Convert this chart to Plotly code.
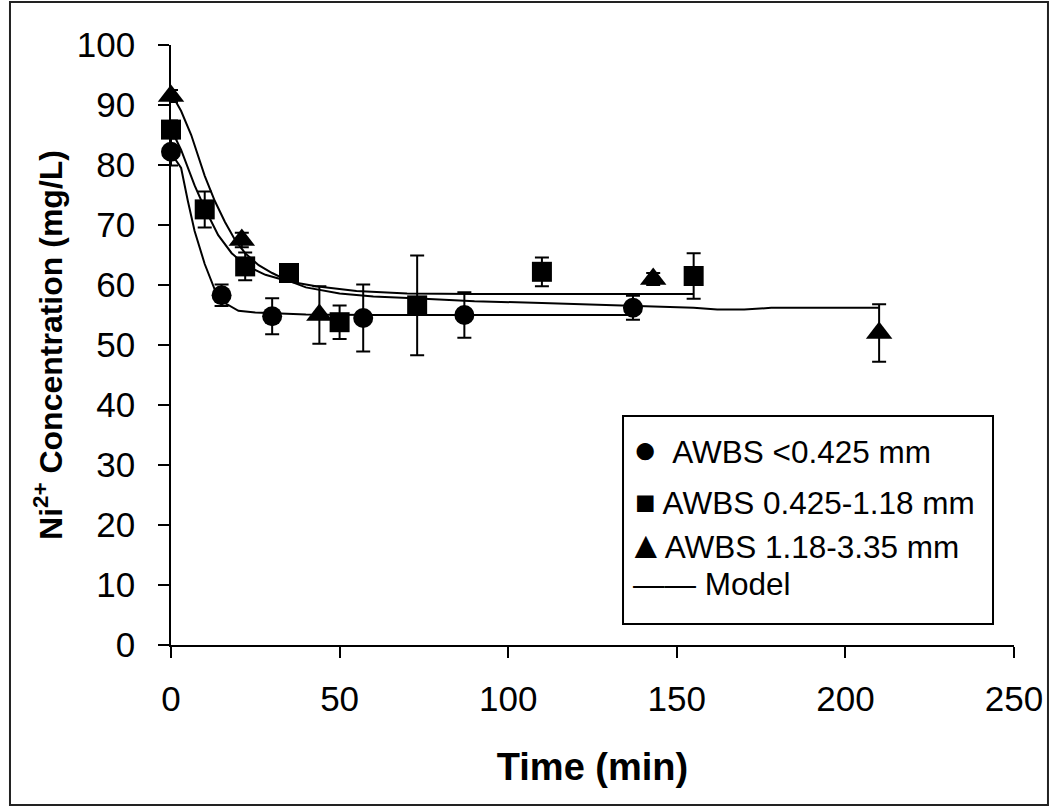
import plotly.graph_objects as go

# ---- data ----
t_small = [0, 15, 30, 57, 87, 137]
c_small = [82.2, 58.3, 54.8, 54.5, 55.0, 56.2]
e_small = [2.3, 1.8, 3.0, 5.6, 3.8, 2.0]

t_mid = [0, 10, 22, 35, 50, 73, 110, 155]
c_mid = [85.9, 72.6, 63.1, 62.0, 53.8, 56.6, 62.2, 61.5]
e_mid = [1.5, 3.0, 2.3, 1.0, 2.8, 8.3, 2.4, 3.8]

t_large = [0, 21, 44, 143, 210]
c_large = [91.5, 67.5, 55.0, 61.0, 52.0]
e_large = [1.0, 1.2, 4.8, 1.0, 4.8]

model_small_t = [0, 3, 5, 7, 10, 13, 16, 20, 25, 30, 40, 60, 90, 137]
model_small_c = [82, 79.5, 74, 69, 63.5, 59.2, 57, 55.7, 55.4, 55.3, 55.1, 55.0, 55.0, 55.0]

model_mid_t = [0, 3, 7, 10, 14, 18, 22, 28, 35, 43, 55, 70, 90, 120, 155]
model_mid_c = [86, 82.5, 76.6, 72.8, 68.3, 65.3, 63.3, 61.7, 60.6, 59.8, 59.0, 58.6, 58.5, 58.5, 58.5]

model_large_t = [0, 3, 6, 10, 13, 16, 19, 22, 26, 30, 34, 40, 50, 60, 72, 90, 110, 130, 145,
                 155, 162, 170, 178, 190, 210]
model_large_c = [92, 89, 85, 78.2, 74, 70.5, 67.5, 65.3, 63.3, 62, 60.9, 59.6, 58.6, 58.1, 57.8,
                 57.3, 57.0, 56.7, 56.4, 56.2, 55.9, 55.9, 56.2, 56.2, 56.2]

legend_glyphs = ["\u25CF", "\u25A0", "\u25B2", "\u2014\u2014"]
legend_labels = ["\u00a0\u2009AWBS &lt;0.425 mm", " AWBS 0.425-1.18 mm",
                 "AWBS 1.18-3.35 mm", " Model"]

x_ticks = [0, 50, 100, 150, 200, 250]
y_ticks = [0, 10, 20, 30, 40, 50, 60, 70, 80, 90, 100]

FONT = "Liberation Sans, Arial, sans-serif"

fig = go.Figure()

for mt, mc in [(model_small_t, model_small_c), (model_mid_t, model_mid_c),
               (model_large_t, model_large_c)]:
    fig.add_trace(go.Scatter(x=mt, y=mc, mode="lines", line=dict(color="black", width=2),
                             showlegend=False, cliponaxis=False, hoverinfo="skip"))

for t, c, e, sym, size in [(t_small, c_small, e_small, "circle", 20),
                           (t_mid, c_mid, e_mid, "square", 20),
                           (t_large, c_large, e_large, "triangle-up", 23)]:
    fig.add_trace(go.Scatter(
        x=t, y=c, mode="markers",
        marker=dict(symbol=sym, size=size, color="black", line=dict(width=0)),
        error_y=dict(type="data", array=e, visible=True, color="black", thickness=2, width=7),
        showlegend=False, cliponaxis=False))

axis_common = dict(showline=True, linecolor="black", linewidth=1.5, ticks="outside",
                   ticklen=11, tickwidth=1.5, tickcolor="black", showgrid=False,
                   zeroline=False, automargin=False,
                   tickfont=dict(family=FONT, size=35, color="black"))

fig.update_layout(
    width=1051, height=806,
    margin=dict(l=171, r=37, t=45, b=161, autoexpand=False),
    paper_bgcolor="white", plot_bgcolor="white",
    xaxis=dict(range=[0, 250], tickvals=x_ticks, ticklabelstandoff=11,
               title=dict(text="<b>Time (min)</b>", standoff=37,
                          font=dict(family=FONT, size=38, color="black")),
               **axis_common),
    yaxis=dict(range=[0, 100], tickvals=y_ticks, ticklabelstandoff=16,
               title=dict(text="<b>Ni<sup>2+</sup> Concentration (mg/L)</b>", standoff=5,
                          font=dict(family=FONT, size=32, color="black")),
               **axis_common),
)

# outer frame of the chart
fig.add_shape(type="rect", xref="paper", yref="paper", x0=-0.191, x1=1.0403, y0=-0.2667, y1=1.0717,
              line=dict(color="#222", width=2), layer="below")

# legend box
fig.add_shape(type="rect", xref="paper", yref="paper", x0=0.5362, x1=0.9751, y0=0.035, y1=0.3817,
              line=dict(color="black", width=2), fillcolor="white", layer="above")
legend_x = [0.546, 0.548, 0.5385, 0.5455]
legend_y = [0.3267, 0.2383, 0.1675, 0.1017]
glyph_sizes = [40, 34, 38, 31.5]
for g, lab, xx, yy, gs in zip(legend_glyphs, legend_labels, legend_x, legend_y, glyph_sizes):
    txt = '<span style="font-size:%spx">%s</span>%s' % (gs, g, lab)
    fig.add_annotation(xref="paper", yref="paper", x=xx, y=yy, xanchor="left", yanchor="middle",
                       text=txt, showarrow=False, font=dict(family=FONT, size=31.5, color="black"))

fig.write_html("out.html", config={"displayModeBar": False},
               post_script="document.body.style.margin='0';")
